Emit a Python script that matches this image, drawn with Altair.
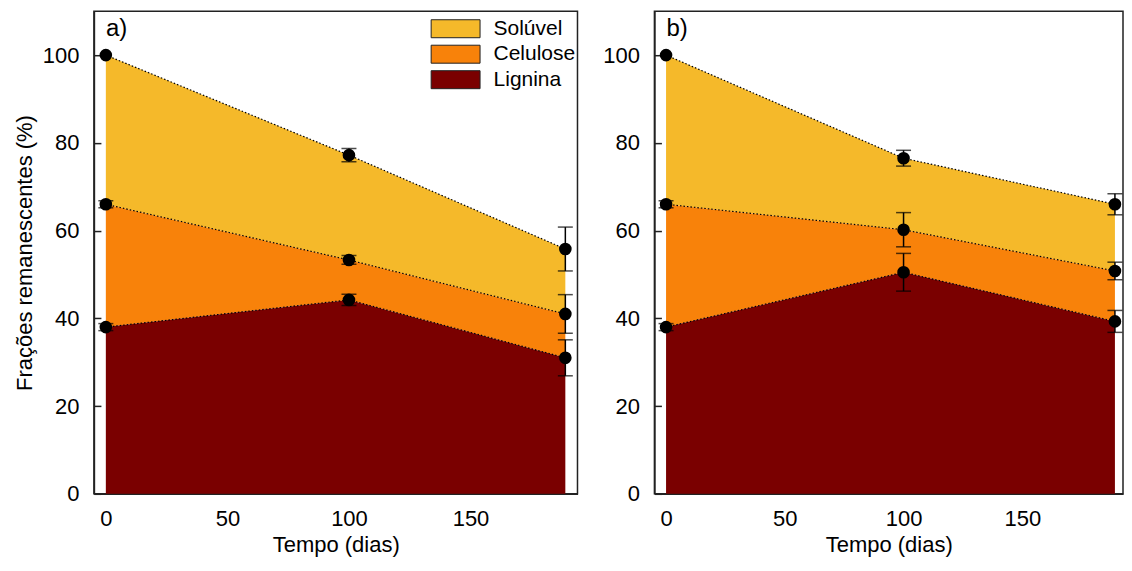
import altair as alt
import pandas as pd

fractions = ["Solúvel", "Celulose", "Lignina"]
fraction_colors = ["#F5B92A", "#F8820A", "#7A0000"]
days = [0, 100, 189]
panel_labels = ["a)", "b)"]
x_ticks = [0, 50, 100, 150]
y_ticks = [0, 20, 40, 60, 80, 100]

# Panel a) - cumulative top of each fraction band (%)
a_soluvel = [100.0, 77.2, 55.8]
a_celulose = [66.0, 53.3, 41.0]
a_lignina = [38.0, 44.2, 31.0]
a_soluvel_err = [0.0, 1.5, 5.0]
a_celulose_err = [0.8, 1.0, 4.4]
a_lignina_err = [0.8, 1.3, 4.1]

# Panel b)
b_soluvel = [100.0, 76.5, 66.0]
b_celulose = [66.0, 60.2, 50.8]
b_lignina = [38.0, 50.5, 39.3]
b_soluvel_err = [0.0, 1.8, 2.4]
b_celulose_err = [0.8, 3.9, 2.0]
b_lignina_err = [0.8, 4.3, 2.5]


def build(sol, cel, lig, sol_e, cel_e, lig_e):
    tops = [sol, cel, lig]
    bottoms = [cel, lig, [0.0] * len(days)]
    errs = [sol_e, cel_e, lig_e]
    rows = []
    for k, name in enumerate(fractions):
        for i, t in enumerate(days):
            rows.append(dict(fracao=name, t=t, top=tops[k][i], bottom=bottoms[k][i],
                             lo=tops[k][i] - errs[k][i], hi=tops[k][i] + errs[k][i],
                             err=errs[k][i]))
    return pd.DataFrame(rows)


def panel(df, label, width, xmax, y_title, legend):
    base = alt.Chart(df)
    xs = alt.Scale(domain=[-4.9, xmax], nice=False, zero=False)
    ys = alt.Scale(domain=[0, 110], nice=False)
    x_axis = alt.Axis(values=x_ticks, title="Tempo (dias)", ticks=False,
                      labelPadding=15, titlePadding=5, grid=False)
    y_axis = alt.Axis(values=y_ticks, title=y_title, ticks=False, orient="left",
                      labelPadding=15, titlePadding=6, grid=False)
    tick_axis = alt.Axis(values=y_ticks, orient="left", offset=-7, tickSize=7,
                         labels=False, domain=False, title=None, grid=False,
                         ticks=True, tickColor="#222", tickWidth=1.5)
    X = alt.X("t:Q", scale=xs, axis=x_axis)
    area = base.mark_area(opacity=1, interpolate="linear").encode(
        x=X,
        y=alt.Y("top:Q", scale=ys, axis=y_axis),
        y2="bottom:Q",
        color=alt.Color("fracao:N", scale=alt.Scale(domain=fractions, range=fraction_colors),
                        legend=legend),
    )
    lines = base.mark_line(color="black", strokeDash=[1.5, 2], strokeWidth=1.2).encode(
        x=X,
        y=alt.Y("top:Q", axis=tick_axis),
        detail="fracao:N",
    )
    errs = base.transform_filter("datum.err > 0").mark_errorbar(
        color="black", ticks=True, size=15, thickness=1.5
    ).encode(
        x=X,
        y=alt.Y("lo:Q", axis=None),
        y2="hi:Q",
    )
    points = base.mark_circle(size=160, color="black", opacity=1).encode(
        x=X,
        y=alt.Y("top:Q", axis=None),
    )
    text = alt.Chart(pd.DataFrame({"rotulo": [label]})).mark_text(
        align="left", baseline="middle", fontSize=24, font="Liberation Sans", color="black"
    ).encode(x=alt.value(12), y=alt.value(18), text="rotulo:N")
    return alt.layer(area, lines, errs, points, text).resolve_axis(y="independent").properties(
        width=width, height=483
    )


legend_a = alt.Legend(title=None, orient="none", legendX=351.5, legendY=7,
                      symbolType="M-2.72,-1H2.72V1H-2.72Z", symbolSize=324,
                      symbolStrokeColor="#222", symbolStrokeWidth=1, symbolOpacity=1,
                      labelFontSize=21, labelColor="black", labelOffset=27.5,
                      rowPadding=2.5, padding=0)

df_a = build(a_soluvel, a_celulose, a_lignina, a_soluvel_err, a_celulose_err, a_lignina_err)
df_b = build(b_soluvel, b_celulose, b_lignina, b_soluvel_err, b_celulose_err, b_lignina_err)

left = panel(df_a, panel_labels[0], 484, 194.0, "Frações remanescentes (%)", legend_a)
right = panel(df_b, panel_labels[1], 469, 192.4, None, None)

chart = alt.hconcat(left, right, spacing=23, padding={"left": 4, "top": 2, "right": 0, "bottom": 0}
).resolve_scale(color="independent").resolve_legend(color="independent").configure(
    font="Liberation Sans"
).configure_axis(
    labelFontSize=22, titleFontSize=22, labelColor="black", titleColor="black",
    titleFontWeight="normal", domainColor="#222", domainWidth=1.5,
    labelFont="Liberation Sans", titleFont="Liberation Sans"
).configure_view(stroke="#222", strokeWidth=1.5).configure_legend(
    labelFont="Liberation Sans"
)

chart.save("out.html", embed_options={"renderer": "svg", "actions": False})
